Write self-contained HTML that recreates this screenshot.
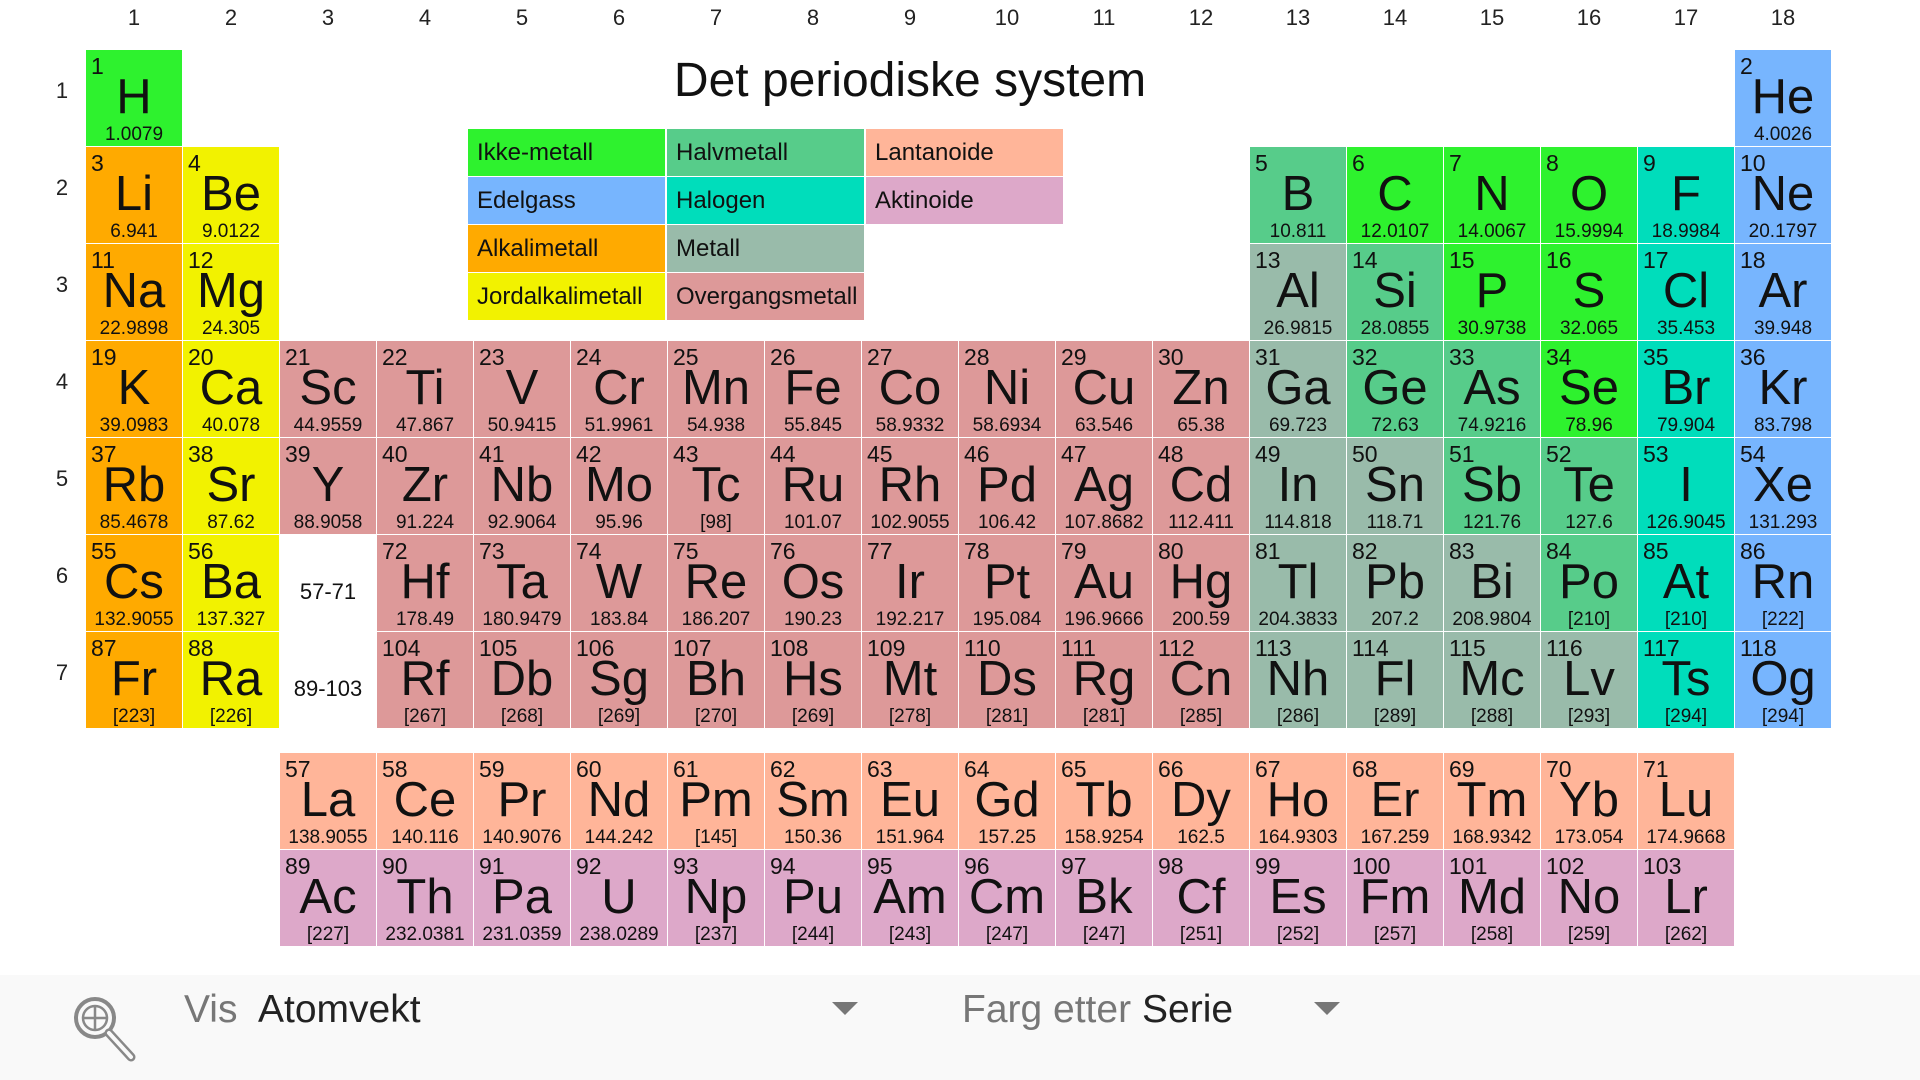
<!DOCTYPE html>
<html><head><meta charset="utf-8"><style>
*{margin:0;padding:0;box-sizing:border-box}
body{width:1920px;height:1080px;background:#fff;position:relative;overflow:hidden;font-family:"Liberation Sans",sans-serif;color:#111}
.grid{position:absolute;display:grid;grid-template-columns:repeat(18,96px);grid-auto-rows:96px;gap:1px;left:86px;top:50px}
.g2{grid-template-columns:repeat(15,96px);left:280px;top:753px}
.grid>div{position:relative;text-align:center}
.grid i{position:absolute;left:5px;top:3px;font-style:normal;font-size:23px}
.grid b{position:absolute;left:0;right:0;top:21px;font-weight:normal;font-size:49px;line-height:52px}
.grid u{position:absolute;left:0;right:0;top:75px;text-decoration:none;font-size:19px;line-height:20px}
.n{background:#2ef22e}.g{background:#77b5fe}.a{background:#ffaa00}.e{background:#f2f200}.h{background:#57cc8a}.x{background:#00ddbb}.m{background:#99bbaa}.t{background:#dd9999}.l{background:#ffb599}.c{background:#dda8c9}
.lbl{font-size:22px;line-height:96px;padding-top:9px}
.cn{position:absolute;top:5px;width:96px;text-align:center;font-size:22px;color:#222}
.rn{position:absolute;left:51px;width:22px;text-align:center;font-size:22px;color:#222}
.title{position:absolute;left:510px;width:800px;text-align:center;top:53px;font-size:48px}
.lg{position:absolute;width:197px;height:47px;font-size:24px;line-height:47px;padding-left:9px}
.bar{position:absolute;left:0;top:975px;width:1920px;height:105px;background:#f9f9f9}
.bt{position:absolute;font-size:39px;top:988px}
.tri{position:absolute;width:0;height:0;border-left:13px solid transparent;border-right:13px solid transparent;border-top:13px solid #777}
</style></head><body>
<div class="cn" style="left:86px">1</div><div class="cn" style="left:183px">2</div><div class="cn" style="left:280px">3</div><div class="cn" style="left:377px">4</div><div class="cn" style="left:474px">5</div><div class="cn" style="left:571px">6</div><div class="cn" style="left:668px">7</div><div class="cn" style="left:765px">8</div><div class="cn" style="left:862px">9</div><div class="cn" style="left:959px">10</div><div class="cn" style="left:1056px">11</div><div class="cn" style="left:1153px">12</div><div class="cn" style="left:1250px">13</div><div class="cn" style="left:1347px">14</div><div class="cn" style="left:1444px">15</div><div class="cn" style="left:1541px">16</div><div class="cn" style="left:1638px">17</div><div class="cn" style="left:1735px">18</div>
<div class="rn" style="top:78px">1</div><div class="rn" style="top:175px">2</div><div class="rn" style="top:272px">3</div><div class="rn" style="top:369px">4</div><div class="rn" style="top:466px">5</div><div class="rn" style="top:563px">6</div><div class="rn" style="top:660px">7</div>
<div class="title">Det periodiske system</div>
<div class="lg n" style="left:468px;top:129px">Ikke-metall</div><div class="lg h" style="left:667px;top:129px">Halvmetall</div><div class="lg l" style="left:866px;top:129px">Lantanoide</div>
<div class="lg g" style="left:468px;top:177px">Edelgass</div><div class="lg x" style="left:667px;top:177px">Halogen</div><div class="lg c" style="left:866px;top:177px">Aktinoide</div>
<div class="lg a" style="left:468px;top:225px">Alkalimetall</div><div class="lg m" style="left:667px;top:225px">Metall</div>
<div class="lg e" style="left:468px;top:273px">Jordalkalimetall</div><div class="lg t" style="left:667px;top:273px">Overgangsmetall</div>
<div class="grid">
<div class="n"><i>1</i><b>H</b><u>1.0079</u></div>
<div class="g" style="grid-column:18"><i>2</i><b>He</b><u>4.0026</u></div>
<div class="a"><i>3</i><b>Li</b><u>6.941</u></div>
<div class="e"><i>4</i><b>Be</b><u>9.0122</u></div>
<div class="h" style="grid-column:13"><i>5</i><b>B</b><u>10.811</u></div>
<div class="n"><i>6</i><b>C</b><u>12.0107</u></div>
<div class="n"><i>7</i><b>N</b><u>14.0067</u></div>
<div class="n"><i>8</i><b>O</b><u>15.9994</u></div>
<div class="x"><i>9</i><b>F</b><u>18.9984</u></div>
<div class="g"><i>10</i><b>Ne</b><u>20.1797</u></div>
<div class="a"><i>11</i><b>Na</b><u>22.9898</u></div>
<div class="e"><i>12</i><b>Mg</b><u>24.305</u></div>
<div class="m" style="grid-column:13"><i>13</i><b>Al</b><u>26.9815</u></div>
<div class="h"><i>14</i><b>Si</b><u>28.0855</u></div>
<div class="n"><i>15</i><b>P</b><u>30.9738</u></div>
<div class="n"><i>16</i><b>S</b><u>32.065</u></div>
<div class="x"><i>17</i><b>Cl</b><u>35.453</u></div>
<div class="g"><i>18</i><b>Ar</b><u>39.948</u></div>
<div class="a"><i>19</i><b>K</b><u>39.0983</u></div>
<div class="e"><i>20</i><b>Ca</b><u>40.078</u></div>
<div class="t"><i>21</i><b>Sc</b><u>44.9559</u></div>
<div class="t"><i>22</i><b>Ti</b><u>47.867</u></div>
<div class="t"><i>23</i><b>V</b><u>50.9415</u></div>
<div class="t"><i>24</i><b>Cr</b><u>51.9961</u></div>
<div class="t"><i>25</i><b>Mn</b><u>54.938</u></div>
<div class="t"><i>26</i><b>Fe</b><u>55.845</u></div>
<div class="t"><i>27</i><b>Co</b><u>58.9332</u></div>
<div class="t"><i>28</i><b>Ni</b><u>58.6934</u></div>
<div class="t"><i>29</i><b>Cu</b><u>63.546</u></div>
<div class="t"><i>30</i><b>Zn</b><u>65.38</u></div>
<div class="m"><i>31</i><b>Ga</b><u>69.723</u></div>
<div class="h"><i>32</i><b>Ge</b><u>72.63</u></div>
<div class="h"><i>33</i><b>As</b><u>74.9216</u></div>
<div class="n"><i>34</i><b>Se</b><u>78.96</u></div>
<div class="x"><i>35</i><b>Br</b><u>79.904</u></div>
<div class="g"><i>36</i><b>Kr</b><u>83.798</u></div>
<div class="a"><i>37</i><b>Rb</b><u>85.4678</u></div>
<div class="e"><i>38</i><b>Sr</b><u>87.62</u></div>
<div class="t"><i>39</i><b>Y</b><u>88.9058</u></div>
<div class="t"><i>40</i><b>Zr</b><u>91.224</u></div>
<div class="t"><i>41</i><b>Nb</b><u>92.9064</u></div>
<div class="t"><i>42</i><b>Mo</b><u>95.96</u></div>
<div class="t"><i>43</i><b>Tc</b><u>[98]</u></div>
<div class="t"><i>44</i><b>Ru</b><u>101.07</u></div>
<div class="t"><i>45</i><b>Rh</b><u>102.9055</u></div>
<div class="t"><i>46</i><b>Pd</b><u>106.42</u></div>
<div class="t"><i>47</i><b>Ag</b><u>107.8682</u></div>
<div class="t"><i>48</i><b>Cd</b><u>112.411</u></div>
<div class="m"><i>49</i><b>In</b><u>114.818</u></div>
<div class="m"><i>50</i><b>Sn</b><u>118.71</u></div>
<div class="h"><i>51</i><b>Sb</b><u>121.76</u></div>
<div class="h"><i>52</i><b>Te</b><u>127.6</u></div>
<div class="x"><i>53</i><b>I</b><u>126.9045</u></div>
<div class="g"><i>54</i><b>Xe</b><u>131.293</u></div>
<div class="a"><i>55</i><b>Cs</b><u>132.9055</u></div>
<div class="e"><i>56</i><b>Ba</b><u>137.327</u></div>
<div class="lbl">57-71</div>
<div class="t"><i>72</i><b>Hf</b><u>178.49</u></div>
<div class="t"><i>73</i><b>Ta</b><u>180.9479</u></div>
<div class="t"><i>74</i><b>W</b><u>183.84</u></div>
<div class="t"><i>75</i><b>Re</b><u>186.207</u></div>
<div class="t"><i>76</i><b>Os</b><u>190.23</u></div>
<div class="t"><i>77</i><b>Ir</b><u>192.217</u></div>
<div class="t"><i>78</i><b>Pt</b><u>195.084</u></div>
<div class="t"><i>79</i><b>Au</b><u>196.9666</u></div>
<div class="t"><i>80</i><b>Hg</b><u>200.59</u></div>
<div class="m"><i>81</i><b>Tl</b><u>204.3833</u></div>
<div class="m"><i>82</i><b>Pb</b><u>207.2</u></div>
<div class="m"><i>83</i><b>Bi</b><u>208.9804</u></div>
<div class="h"><i>84</i><b>Po</b><u>[210]</u></div>
<div class="x"><i>85</i><b>At</b><u>[210]</u></div>
<div class="g"><i>86</i><b>Rn</b><u>[222]</u></div>
<div class="a"><i>87</i><b>Fr</b><u>[223]</u></div>
<div class="e"><i>88</i><b>Ra</b><u>[226]</u></div>
<div class="lbl">89-103</div>
<div class="t"><i>104</i><b>Rf</b><u>[267]</u></div>
<div class="t"><i>105</i><b>Db</b><u>[268]</u></div>
<div class="t"><i>106</i><b>Sg</b><u>[269]</u></div>
<div class="t"><i>107</i><b>Bh</b><u>[270]</u></div>
<div class="t"><i>108</i><b>Hs</b><u>[269]</u></div>
<div class="t"><i>109</i><b>Mt</b><u>[278]</u></div>
<div class="t"><i>110</i><b>Ds</b><u>[281]</u></div>
<div class="t"><i>111</i><b>Rg</b><u>[281]</u></div>
<div class="t"><i>112</i><b>Cn</b><u>[285]</u></div>
<div class="m"><i>113</i><b>Nh</b><u>[286]</u></div>
<div class="m"><i>114</i><b>Fl</b><u>[289]</u></div>
<div class="m"><i>115</i><b>Mc</b><u>[288]</u></div>
<div class="m"><i>116</i><b>Lv</b><u>[293]</u></div>
<div class="x"><i>117</i><b>Ts</b><u>[294]</u></div>
<div class="g"><i>118</i><b>Og</b><u>[294]</u></div>
</div>
<div class="grid g2">
<div class="l"><i>57</i><b>La</b><u>138.9055</u></div>
<div class="l"><i>58</i><b>Ce</b><u>140.116</u></div>
<div class="l"><i>59</i><b>Pr</b><u>140.9076</u></div>
<div class="l"><i>60</i><b>Nd</b><u>144.242</u></div>
<div class="l"><i>61</i><b>Pm</b><u>[145]</u></div>
<div class="l"><i>62</i><b>Sm</b><u>150.36</u></div>
<div class="l"><i>63</i><b>Eu</b><u>151.964</u></div>
<div class="l"><i>64</i><b>Gd</b><u>157.25</u></div>
<div class="l"><i>65</i><b>Tb</b><u>158.9254</u></div>
<div class="l"><i>66</i><b>Dy</b><u>162.5</u></div>
<div class="l"><i>67</i><b>Ho</b><u>164.9303</u></div>
<div class="l"><i>68</i><b>Er</b><u>167.259</u></div>
<div class="l"><i>69</i><b>Tm</b><u>168.9342</u></div>
<div class="l"><i>70</i><b>Yb</b><u>173.054</u></div>
<div class="l"><i>71</i><b>Lu</b><u>174.9668</u></div>
<div class="c"><i>89</i><b>Ac</b><u>[227]</u></div>
<div class="c"><i>90</i><b>Th</b><u>232.0381</u></div>
<div class="c"><i>91</i><b>Pa</b><u>231.0359</u></div>
<div class="c"><i>92</i><b>U</b><u>238.0289</u></div>
<div class="c"><i>93</i><b>Np</b><u>[237]</u></div>
<div class="c"><i>94</i><b>Pu</b><u>[244]</u></div>
<div class="c"><i>95</i><b>Am</b><u>[243]</u></div>
<div class="c"><i>96</i><b>Cm</b><u>[247]</u></div>
<div class="c"><i>97</i><b>Bk</b><u>[247]</u></div>
<div class="c"><i>98</i><b>Cf</b><u>[251]</u></div>
<div class="c"><i>99</i><b>Es</b><u>[252]</u></div>
<div class="c"><i>100</i><b>Fm</b><u>[257]</u></div>
<div class="c"><i>101</i><b>Md</b><u>[258]</u></div>
<div class="c"><i>102</i><b>No</b><u>[259]</u></div>
<div class="c"><i>103</i><b>Lr</b><u>[262]</u></div>
</div>
<div class="bar"></div>
<svg style="position:absolute;left:70px;top:990px" width="70" height="75" viewBox="0 0 70 75">
<circle cx="25" cy="28" r="19" fill="none" stroke="#888" stroke-width="4"/>
<circle cx="25" cy="28" r="12" fill="none" stroke="#888" stroke-width="2.5"/>
<path d="M25 17v22M14 28h22" stroke="#888" stroke-width="2.5"/>
<path d="M39 43l22 24" stroke="#888" stroke-width="9" stroke-linecap="round"/>
<path d="M39 43l22 24" stroke="#f9f9f9" stroke-width="4" stroke-linecap="round"/>
</svg>
<div class="bt" style="left:184px;color:#777">Vis</div>
<div class="bt" style="left:258px;color:#222">Atomvekt</div>
<div class="tri" style="left:832px;top:1002px"></div>
<div class="bt" style="left:962px;color:#777">Farg etter</div>
<div class="bt" style="left:1142px;color:#222">Serie</div>
<div class="tri" style="left:1314px;top:1002px"></div>
</body></html>
